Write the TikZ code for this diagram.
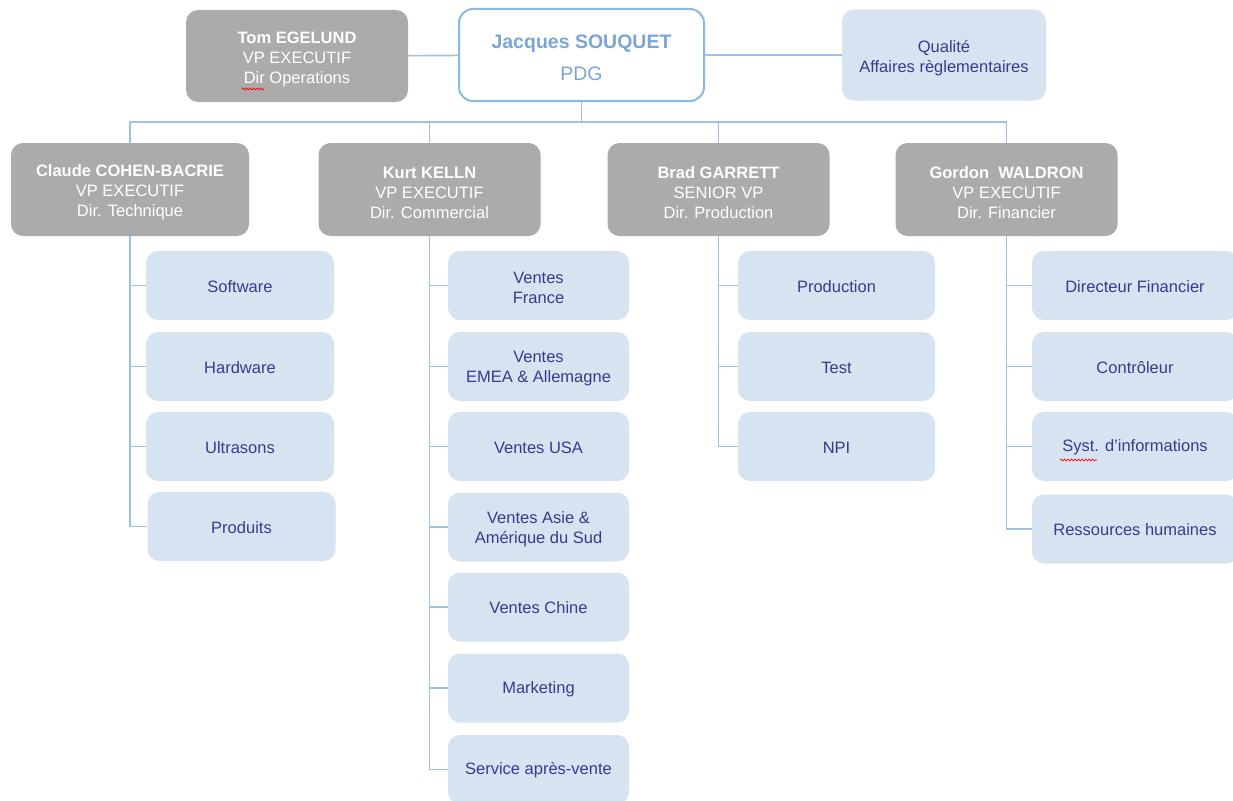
\documentclass[tikz,border=0pt]{standalone}
\usepackage{fontspec}
\setmainfont{Liberation Sans}
\usetikzlibrary{decorations.pathmorphing}
\definecolor{grayfill}{RGB}{171,171,171}
\definecolor{lightfill}{RGB}{214,228,242}
\definecolor{navy}{RGB}{58,58,140}
\definecolor{ceoblue}{RGB}{122,165,216}
\definecolor{linkblue}{RGB}{157,194,229}
\definecolor{ceoborder}{RGB}{140,184,228}
\begin{document}
\begin{tikzpicture}[x=1pt,y=-1pt,
  toppad/.store in=\mytoppad, toppad=14pt,
  padded/.style={execute at begin node={\rule{0pt}{\mytoppad}}},
  vpbox/.style={padded, toppad=58pt, fill=grayfill, rounded corners=12pt, minimum width=222pt, minimum height=93pt, text=white, align=center, font=\fontsize{16.5}{20}\selectfont, inner sep=0pt},
  ceobox/.style={padded, toppad=51pt, draw=ceoborder, line width=2pt, fill=white, rounded corners=14pt, minimum width=245pt, minimum height=92pt, text=ceoblue, align=center, font=\fontsize{19.5}{24}\selectfont, inner sep=0pt},
  unitbox/.style={padded, toppad=14pt, fill=lightfill, rounded corners=12pt, minimum height=69pt, text=navy, align=center, font=\fontsize{16.5}{20}\selectfont, inner sep=0pt},
  twoline/.style={toppad=36pt},
  link/.style={draw=linkblue, line width=1.6pt},
  spell/.style={draw=red, line width=0.7pt, decorate, decoration={snake, amplitude=0.9pt, segment length=3.5pt}}]
\clip (0,0) rectangle (1233,800);
\fill[white] (0,0) rectangle (1233,800);

% top row
\node[vpbox, minimum width=222pt, minimum height=92pt] (tom) at (297,56) {\textbf{Tom EGELUND}\\VP EXECUTIF\\Dir Operations};
\node[ceobox] (ceo) at (581.5,55) {\textbf{Jacques SOUQUET}\\[8pt]PDG};
\node[unitbox, toppad=38pt, minimum width=204pt, minimum height=91pt] (qual) at (944,55) {Qualité\\Affaires règlementaires};

% VPs
\node[vpbox, minimum width=238pt] (claude) at (130,189.5) {\textbf{Claude COHEN-BACRIE}\\VP EXECUTIF\\Dir. Technique};
\node[vpbox] (kurt) at (429.5,189.5) {\textbf{Kurt KELLN}\\VP EXECUTIF\\Dir. Commercial};
\node[vpbox] (brad) at (718.5,189.5) {\textbf{Brad GARRETT}\\SENIOR VP\\Dir. Production};
\node[vpbox] (gordon) at (1006.5,189.5) {\textbf{Gordon~~WALDRON}\\VP EXECUTIF\\Dir. Financier};

% Claude's units
\node[unitbox, minimum width=188pt] (c1) at (240,285.5) {Software};
\node[unitbox, minimum width=188pt] (c2) at (240,366.5) {Hardware};
\node[unitbox, minimum width=188pt] (c3) at (240,446.5) {Ultrasons};
\node[unitbox, minimum width=188pt] (c4) at (241.5,526.5) {Produits};

% Kurt's units
\node[unitbox, twoline, minimum width=181pt] (k1) at (538.5,285.5) {Ventes\\France};
\node[unitbox, twoline, minimum width=181pt] (k2) at (538.5,366.5) {Ventes\\EMEA \& Allemagne};
\node[unitbox, minimum width=181pt] (k3) at (538.5,446.5) {Ventes USA};
\node[unitbox, twoline, minimum width=181pt] (k4) at (538.5,527) {Ventes Asie \&\\Amérique du Sud};
\node[unitbox, minimum width=181pt] (k5) at (538.5,607) {Ventes Chine};
\node[unitbox, minimum width=181pt] (k6) at (538.5,688) {Marketing};
\node[unitbox, minimum width=181pt] (k7) at (538.5,769.5) {Service après-vente};

% Brad's units
\node[unitbox, minimum width=197pt] (b1) at (836.5,285.5) {Production};
\node[unitbox, minimum width=197pt] (b2) at (836.5,366.5) {Test};
\node[unitbox, minimum width=197pt] (b3) at (836.5,446.5) {NPI};

% Gordon's units
\node[unitbox, minimum width=206pt] (g1) at (1135,285.5) {Directeur Financier};
\node[unitbox, minimum width=206pt] (g2) at (1135,366.5) {Contrôleur};
\node[unitbox, minimum width=206pt] (g3) at (1135,446.5) {Syst. d’informations};
\node[unitbox, minimum width=206pt] (g4) at (1135,529) {Ressources humaines};

% connectors
\draw[link] (tom) -- (ceo);
\draw[link] (ceo) -- (qual);
\coordinate (bus) at (581.5,122);
\draw[link] (ceo.south) -- (bus);
\foreach \v in {claude,kurt,brad,gordon} \draw[link] (\v.north) |- (bus);
\foreach \u in {c1,c2,c3,c4} \draw[link] (claude.south) |- (\u.west);
\foreach \u in {k1,k2,k3,k4,k5,k6,k7} \draw[link] (kurt.south) |- (\u.west);
\foreach \u in {b1,b2,b3} \draw[link] (brad.south) |- (\u.west);
\foreach \u in {g1,g2,g3,g4} \draw[link] (gordon.south) |- (\u.west);

% spell-check marks
\draw[spell] (242,89) -- (264,89);
\draw[spell] (1060,460) -- (1097,460);
\end{tikzpicture}
\end{document}
